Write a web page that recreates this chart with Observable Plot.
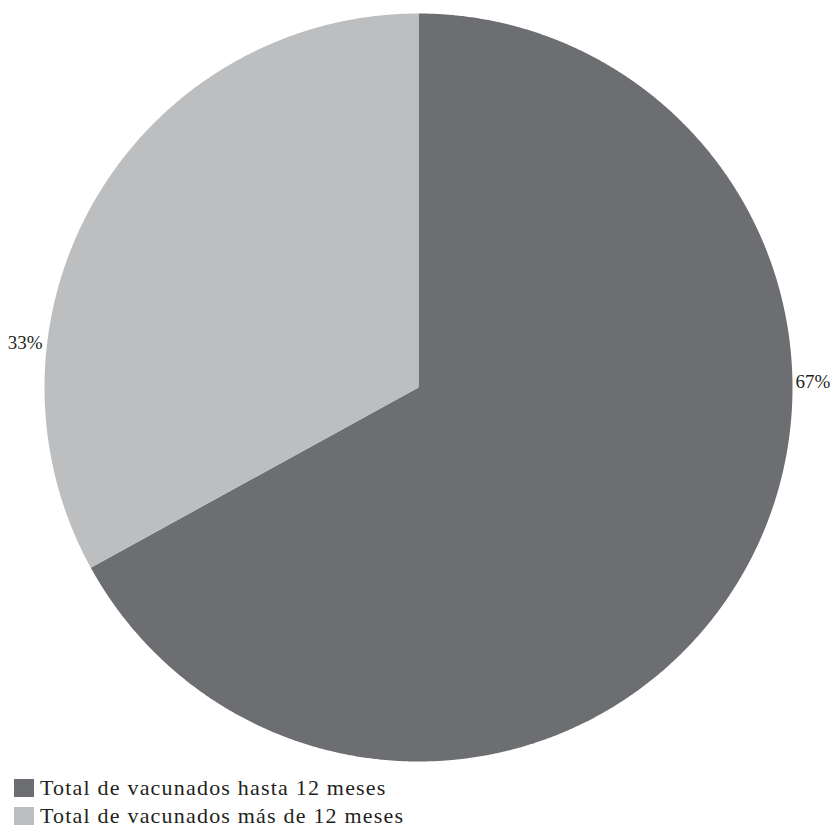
<!DOCTYPE html>
<html>
<head>
<meta charset="utf-8">
<script src="https://cdn.jsdelivr.net/npm/d3@7"></script>
<script src="https://cdn.jsdelivr.net/npm/@observablehq/plot@0.6"></script>
<style>
  html, body { margin: 0; padding: 0; background: #fff; overflow: hidden; }
  #chart svg { display: block; }
  .legend { font-family: "Liberation Serif", "DejaVu Serif", serif; font-size: 22px; letter-spacing: 1.2px; color: #231f20; margin-left: 14px; margin-top: 4px; }
  .legend .row { display: flex; align-items: center; height: 28px; line-height: 28px; }
  .legend .sw { width: 20px; height: 18px; margin-right: 6px; flex: none; }
</style>
</head>
<body>
<div id="chart"></div>
<div class="legend" id="legend"></div>
<script>
const categories = ["Total de vacunados hasta 12 meses", "Total de vacunados más de 12 meses"];
const values = [67, 33];
const labels = ["67%", "33%"];
const colors = ["#6d6e71", "#bcbec0"];

const pie = d3.pie().sort(null).value(d => d.value)(categories.map((c, i) => ({key: c, value: values[i]})));

// polygon outline of each slice on the unit circle (angle clockwise from 12 o'clock)
const pts = [];
for (const s of pie) {
  const k = s.data.key;
  pts.push({key: k, x: 0, y: 0});
  const n = Math.max(2, Math.ceil((s.endAngle - s.startAngle) / (Math.PI / 720)));
  for (let j = 0; j <= n; j++) {
    const a = s.startAngle + (s.endAngle - s.startAngle) * j / n;
    pts.push({key: k, x: Math.sin(a), y: Math.cos(a)});
  }
  pts.push({key: k, x: 0, y: 0});
}

// label anchor positions (outside end, best fit)
const labelPos = [
  {x: 1.008, y: 0.015, anchor: "start"},
  {x: -1.005, y: 0.12, anchor: "end"}
];
const labelData = labels.map((t, i) => ({text: t, ...labelPos[i]}));

const chart = Plot.plot({
  width: 834,
  height: 770,
  marginLeft: 44,
  marginRight: 42,
  marginTop: 13,
  marginBottom: 9,
  x: {domain: [-1, 1], axis: null},
  y: {domain: [-1, 1], axis: null},
  color: {domain: categories, range: colors},
  style: {fontFamily: "'Liberation Serif', 'DejaVu Serif', serif"},
  marks: [
    Plot.line(pts, {x: "x", y: "y", z: "key", fill: "key", stroke: "none", curve: "linear"}),
    Plot.text(labelData.filter(d => d.anchor === "start"), {x: "x", y: "y", text: "text", textAnchor: "start", fontSize: 19, fill: "#231f20"}),
    Plot.text(labelData.filter(d => d.anchor === "end"), {x: "x", y: "y", text: "text", textAnchor: "end", fontSize: 19, fill: "#231f20"})
  ]
});
document.getElementById("chart").appendChild(chart);

const legend = document.getElementById("legend");
categories.forEach((c, i) => {
  const row = document.createElement("div");
  row.className = "row";
  const sw = document.createElement("span");
  sw.className = "sw";
  sw.style.background = colors[i];
  const t = document.createElement("span");
  t.textContent = c;
  row.appendChild(sw);
  row.appendChild(t);
  legend.appendChild(row);
});
</script>
</body>
</html>
